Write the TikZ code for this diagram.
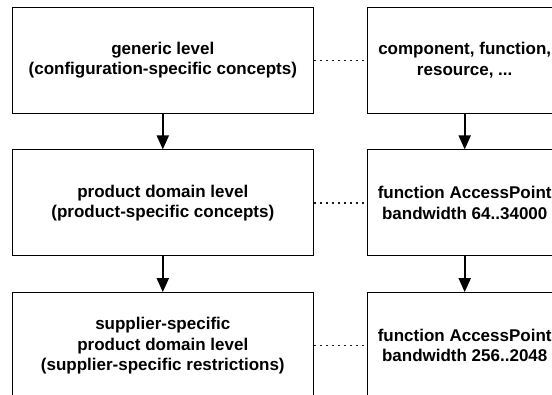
\documentclass[tikz,border=0pt]{standalone}
\usepackage{fontspec}
\setmainfont{Liberation Sans}
\usetikzlibrary{arrows.meta, positioning}
\definecolor{LevelBlack}{HTML}{000000}
\definecolor{LevelWhite}{HTML}{ffffff}
\definecolor{LinkGray}{HTML}{1a1a1a}
\tikzset{
    % Text of all boxes
    every node/.style={font=\fontsize{17}{20.5}\selectfont\bfseries},
    % Level box style
    level/.style={
        rectangle,
        draw=LevelBlack,
        fill=LevelWhite,
        line width=1pt,
        minimum width=301pt,
        minimum height=106pt,
        align=center
    },
    % Example box style
    instance/.style={
        rectangle,
        draw=LevelBlack,
        fill=LevelWhite,
        line width=1pt,
        minimum width=194pt,
        minimum height=106pt,
        align=center
    },
    % Arrow style
    arrow/.style={
        -{Triangle[length=14pt,width=12pt]},
        line width=2pt,
        color=LevelBlack
    },
    % Dotted link style
    link/.style={
        line width=1.3pt,
        dash pattern=on 2.5pt off 3.5pt,
        color=LinkGray
    }
}

\begin{document}
\begin{tikzpicture}[x=1pt, y=-1pt, node distance=35.7pt and 53.4pt]
        \clip (0,0) rectangle (552,394);
        \fill [LevelWhite] (0,0) rectangle (552,394);

        % Levels
        \node (gen) [level] at (162.8,60.2) {generic level\\(configuration-specific concepts)};
        \node (prod) [level, below=of gen] {product domain level\\(product-specific concepts)};
        \node (supp) [level, below=of prod] {supplier-specific\\product domain level\\(supplier-specific restrictions)};

        \draw [arrow] (gen) -- (prod);
        \draw [arrow] (prod) -- (supp);

        % Examples
        \node (genx) [instance, right=of gen] {component, function,\\resource, ...};
        \node (prodx) [instance, right=of prod] {function AccessPoint\\bandwidth 64..34000};
        \node (suppx) [instance, right=of supp] {function AccessPoint\\bandwidth 256..2048};

        \draw [arrow] (genx) -- (prodx);
        \draw [arrow] (prodx) -- (suppx);

        % Links
        \draw [link] (gen) -- (genx);
        \draw [link] (prod) -- (prodx);
        \draw [link] (supp) -- (suppx);
    \end{tikzpicture}
\end{document}
